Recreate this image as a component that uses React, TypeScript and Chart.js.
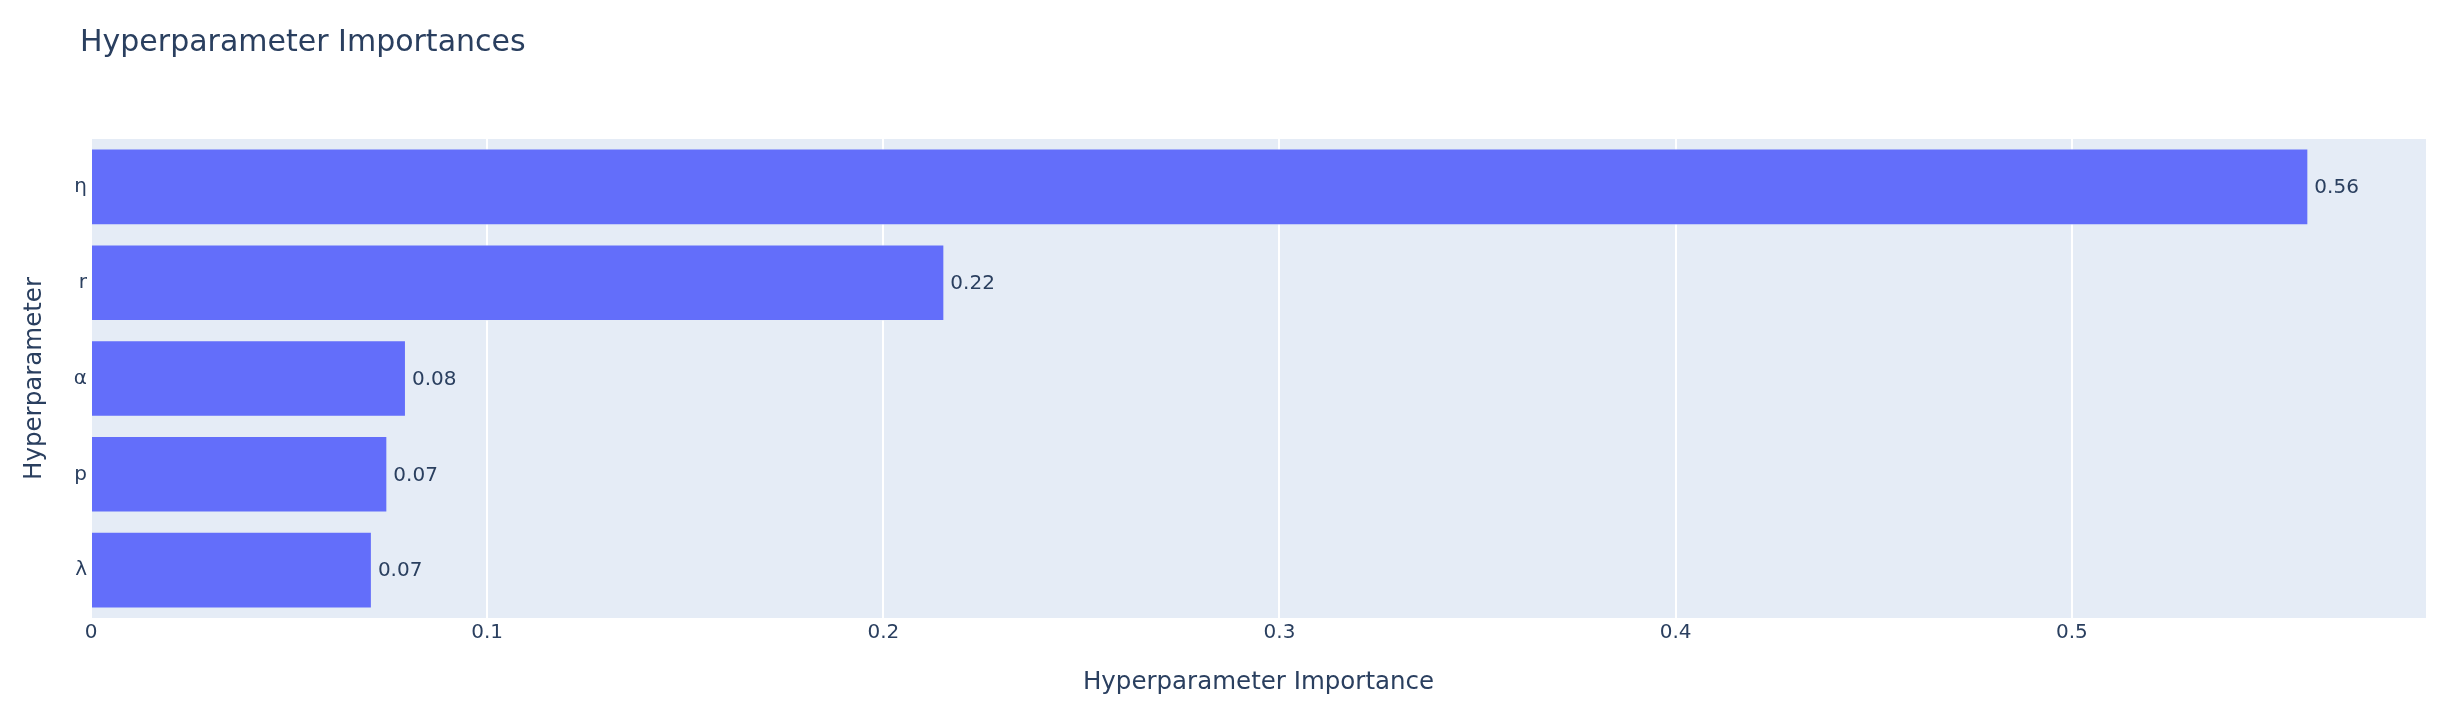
import React, { useEffect, useRef } from 'react';
import { Chart, registerables } from 'chart.js';
Chart.register(...registerables);

const categories = ['η', 'r', 'α', 'p', 'λ'];
const importances = [0.5597, 0.2154, 0.0795, 0.0748, 0.0709];
const xTickValues = [0, 0.1, 0.2, 0.3, 0.4, 0.5];
const xMin = 0;
const xMax = 0.5894;
const chartTitle = 'Hyperparameter Importances';
const xTitle = 'Hyperparameter Importance';
const yTitle = 'Hyperparameter';

const FONT = '"DejaVu Sans", Verdana, sans-serif';
const TEXT = '#2a3f5f';
const BG = '#E5ECF6';
const BAR = '#636efa';

const decorPlugin = {
  id: 'decor',
  beforeDraw(chart: any) {
    const { ctx, chartArea } = chart;
    ctx.save();
    ctx.fillStyle = '#ffffff';
    ctx.fillRect(0, 0, chart.width, chart.height);
    ctx.fillStyle = BG;
    ctx.fillRect(chartArea.left, chartArea.top, chartArea.right - chartArea.left, chartArea.bottom - chartArea.top);
    ctx.restore();
  },
  afterDatasetsDraw(chart: any) {
    const { ctx } = chart;
    const meta = chart.getDatasetMeta(0);
    ctx.save();
    ctx.fillStyle = TEXT;
    ctx.font = `20px ${FONT}`;
    ctx.textAlign = 'left';
    ctx.textBaseline = 'middle';
    meta.data.forEach((bar: any, i: number) => {
      const v = chart.data.datasets[0].data[i] as number;
      ctx.fillText(v.toFixed(2), bar.x + 6, bar.y + 1);
    });
    ctx.restore();
  },
  afterDraw(chart: any) {
    const { ctx, chartArea } = chart;
    ctx.save();
    ctx.fillStyle = TEXT;
    ctx.textBaseline = 'alphabetic';
    ctx.font = `30px ${FONT}`;
    ctx.textAlign = 'left';
    ctx.fillText(chartTitle, 80, 51);
    ctx.font = `24.5px ${FONT}`;
    ctx.textAlign = 'center';
    ctx.fillText(xTitle, (chartArea.left + chartArea.right) / 2, 689);
    ctx.translate(41, (chartArea.top + chartArea.bottom) / 2);
    ctx.rotate(-Math.PI / 2);
    ctx.fillText(yTitle, 0, 0);
    ctx.restore();
  },
};

export default function App() {
  const ref = useRef<HTMLCanvasElement>(null);
  useEffect(() => {
    document.body.style.margin = '0';
    if (!ref.current) return;
    const chart = new Chart(ref.current, {
      type: 'bar',
      data: {
        labels: categories,
        datasets: [
          {
            data: importances,
            backgroundColor: BAR,
            borderColor: 'rgba(229,236,246,0.55)',
            borderWidth: 1,
            categoryPercentage: 0.8,
            barPercentage: 1,
          },
        ],
      },
      options: {
        indexAxis: 'y',
        animation: false,
        responsive: true,
        maintainAspectRatio: false,
        layout: { padding: { top: 139, right: 31, left: 0, bottom: 0 } },
        plugins: {
          legend: { display: false },
          title: { display: false },
          tooltip: { enabled: false },
        },
        scales: {
          x: {
            type: 'linear',
            min: xMin,
            max: xMax,
            afterBuildTicks: (scale: any) => {
              scale.ticks = xTickValues.map((v) => ({ value: v }));
            },
            afterFit: (scale: any) => {
              scale.height = 103;
            },
            ticks: {
              color: TEXT,
              font: { family: FONT, size: 20 },
              padding: 3,
              maxRotation: 0,
              callback: (v: any) => String(Number(Number(v).toFixed(1))),
            },
            grid: { color: '#ffffff', lineWidth: 2, drawTicks: false },
            border: { display: false },
          },
          y: {
            afterFit: (scale: any) => {
              scale.width = 91;
            },
            ticks: {
              color: TEXT,
              font: { family: FONT, size: 20 },
              padding: 4,
            },
            grid: { display: false, drawTicks: false },
            border: { display: false },
          },
        },
      },
      plugins: [decorPlugin],
    });
    return () => chart.destroy();
  }, []);
  return (
    <div style={{ width: 2457, height: 721, position: 'relative' }}>
      <canvas ref={ref} />
    </div>
  );
}
